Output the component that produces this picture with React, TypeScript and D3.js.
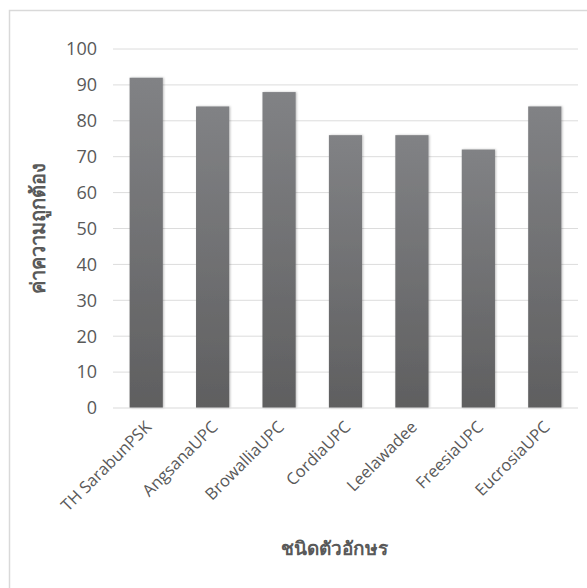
import React from "react";
import * as d3 from "d3";

const categories = ["TH SarabunPSK", "AngsanaUPC", "BrowalliaUPC", "CordiaUPC", "Leelawadee", "FreesiaUPC", "EucrosiaUPC"];
const values = [92, 84, 88, 76, 76, 72, 84];
const yTicks = [0, 10, 20, 30, 40, 50, 60, 70, 80, 90, 100];
const yTitle = "ค่าความถูกต้อง";
const xTitle = "ชนิดตัวอักษร";

const W = 587;
const H = 588;
const left = 113;
const right = 578;
const top = 49;
const bottom = 408;
const font = "'Open Sans', 'Noto Sans', 'DejaVu Sans', sans-serif";

export default function App() {
  const x = d3.scaleBand<string>().domain(categories).range([left, right]).paddingInner(0.5).paddingOuter(0.25);
  const y = d3.scaleLinear().domain([0, 100]).range([bottom, top]);
  return (
    <svg width={W} height={H} style={{ position: "absolute", left: 0, top: 0 }}>
      <defs>
        <linearGradient id="barGrad" x1="0" y1="0" x2="0" y2="1">
          <stop offset="0%" stopColor="#818285" />
          <stop offset="100%" stopColor="#5f5f60" />
        </linearGradient>
        <filter id="shadow" x="-30%" y="-10%" width="160%" height="120%">
          <feDropShadow dx="1" dy="0" stdDeviation="1.2" floodColor="#000" floodOpacity="0.25" />
        </filter>
      </defs>
      <rect x={0} y={0} width={W} height={H} fill="#fff" />
      <rect x={9.5} y={10.5} width={W} height={H} fill="#fff" stroke="#d9d9d9" strokeWidth={1.5} />
      {yTicks.map((t) => (
        <g key={t}>
          {t > 0 && <line x1={left} x2={right} y1={y(t)} y2={y(t)} stroke="#dcdcdc" strokeWidth={1} />}
          <text x={97} y={y(t)} dy="0.35em" textAnchor="end" fontFamily={font} fontSize={18} fill="#595959">
            {t}
          </text>
        </g>
      ))}
      {categories.map((c, i) => (
        <rect
          key={c}
          x={x(c)}
          y={y(values[i])}
          width={x.bandwidth()}
          height={y(0) - y(values[i])}
          fill="url(#barGrad)"
          filter="url(#shadow)"
        />
      ))}
      <line x1={left} x2={right} y1={y(0)} y2={y(0)} stroke="#d9d9d9" strokeWidth={1.2} />
      {categories.map((c) => {
        const cx = (x(c) as number) + x.bandwidth() / 2 + 2;
        const cy = bottom + 16;
        return (
          <text
            key={c}
            transform={`translate(${cx},${cy}) rotate(-45)`}
            textAnchor="end"
            dy="0.35em"
            fontFamily={font}
            fontSize={16.5}
            fill="#595959"
          >
            {c}
          </text>
        );
      })}
      <text
        transform={`translate(38,${(top + bottom) / 2}) rotate(-90)`}
        textAnchor="middle"
        dy="0.35em"
        fontFamily={font}
        fontSize={20}
        fontWeight="bold"
        fill="#595959"
      >
        {yTitle}
      </text>
      <text x={334} y={548} textAnchor="middle" dy="0.35em" fontFamily={font} fontSize={19} fontWeight="bold" fill="#595959">
        {xTitle}
      </text>
    </svg>
  );
}
